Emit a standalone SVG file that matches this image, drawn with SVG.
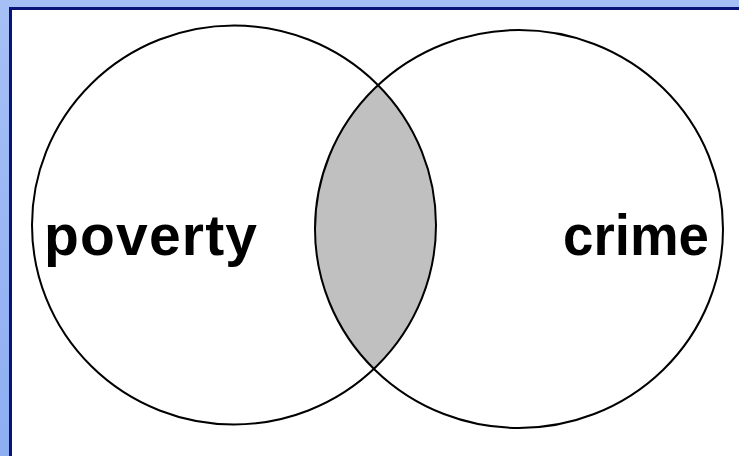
<svg xmlns="http://www.w3.org/2000/svg" width="739" height="456" viewBox="0 0 739 456">
  <style>
    .ring { fill: none; stroke: #000; stroke-width: 2; }
    .label { font-family: "Liberation Sans", Arial, sans-serif; font-weight: bold; font-size: 57px; fill: #000; }
  </style>
  <defs>
    <linearGradient id="bg" x1="0" y1="0" x2="0" y2="1">
      <stop offset="0" stop-color="#a6c0f6"/>
      <stop offset="1" stop-color="#8eaef2"/>
    </linearGradient>
    <clipPath id="leftClip">
      <ellipse cx="234" cy="225" rx="202" ry="199.5"/>
    </clipPath>
  </defs>
  <rect x="0" y="0" width="739" height="456" fill="url(#bg)"/>
  <rect x="10.5" y="8.5" width="740" height="460" fill="#fff" stroke="#0a1478" stroke-width="3"/>
  <g id="intersection">
    <ellipse cx="519" cy="229" rx="204" ry="199" fill="#c0c0c0" clip-path="url(#leftClip)"/>
  </g>
  <g id="poverty">
    <ellipse class="ring" cx="234" cy="225" rx="202" ry="199.5"/>
    <text class="label" x="44" y="255" textLength="213" lengthAdjust="spacing">poverty</text>
  </g>
  <g id="crime">
    <ellipse class="ring" cx="519" cy="229" rx="204" ry="199"/>
    <text class="label" x="563" y="255" textLength="146" lengthAdjust="spacingAndGlyphs">crime</text>
  </g>
</svg>
